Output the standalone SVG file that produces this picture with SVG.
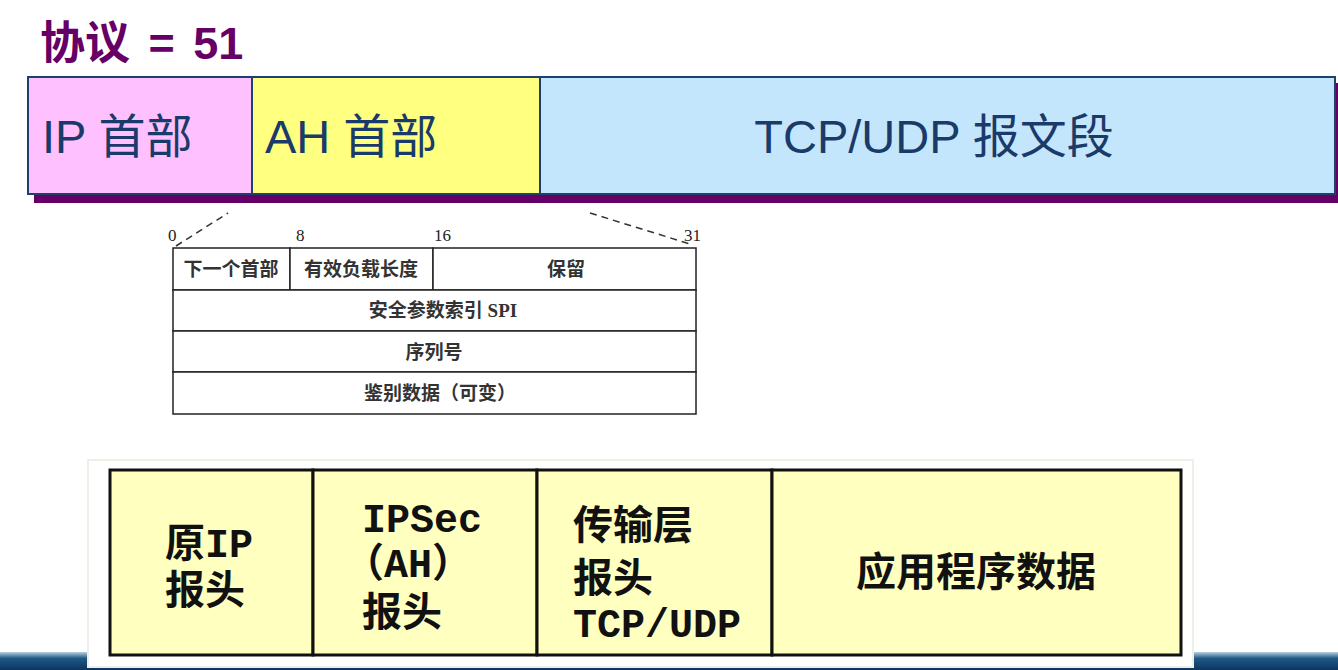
<svg xmlns="http://www.w3.org/2000/svg" width="1338" height="670" viewBox="0 0 1338 670">
<defs>
<linearGradient id="band" x1="0" y1="0" x2="0" y2="1">
<stop offset="0" stop-color="#b8d0e0"/>
<stop offset="0.35" stop-color="#1f5a86"/>
<stop offset="1" stop-color="#0b3560"/>
</linearGradient>
</defs>
<style>
.title{font-family:"Liberation Sans","Noto Sans CJK SC",sans-serif;font-size:45px;font-weight:bold;fill:#660066;word-spacing:6px}
.seg{stroke:#1f3f6f;stroke-width:2}
.segt{font-family:"Liberation Sans","Noto Sans CJK SC",sans-serif;font-size:47px;fill:#1a3a6a}
.cell{fill:#fff;stroke:#222;stroke-width:1.5}
.ct{font-family:"Liberation Serif","Noto Sans CJK SC",serif;font-size:19px;font-weight:bold;fill:#333;text-anchor:middle}
.bit{font-family:"Liberation Serif",serif;font-size:17px;fill:#222}
.dash{stroke:#333;stroke-width:1.5;stroke-dasharray:7 5;fill:none}
.box{fill:#ffffc0;stroke:#111;stroke-width:3}
.bt{font-family:"Liberation Mono","Noto Sans CJK SC",monospace;font-size:40px;font-weight:bold;fill:#111}
</style>
<rect width="1338" height="670" fill="#fff"/>
<rect x="0" y="652" width="1338" height="18" fill="url(#band)"/>
<g id="title"><text class="title" x="40" y="59">协议 = 51</text></g>
<g id="top-bar">
<rect x="34" y="83" width="1304" height="120" fill="#660066"/>
<g id="ip-header"><rect class="seg" x="28" y="77" width="224" height="117" fill="#ffc0ff"/><text class="segt" x="42" y="153">IP 首部</text></g>
<g id="ah-header"><rect class="seg" x="252" y="77" width="288" height="117" fill="#ffff80"/><text class="segt" x="265" y="153">AH 首部</text></g>
<g id="tcp-udp"><rect class="seg" x="540" y="77" width="795" height="117" fill="#c4e6fc"/><text class="segt" x="934" y="153" text-anchor="middle" font-size="48">TCP/UDP 报文段</text></g>
</g>
<g id="connectors">
<line class="dash" x1="176" y1="246" x2="228" y2="213"/>
<line class="dash" x1="590" y1="213" x2="690" y2="244"/>
</g>
<g id="ah-format">
<text class="bit" x="168" y="241">0</text>
<text class="bit" x="296" y="241">8</text>
<text class="bit" x="434" y="241">16</text>
<text class="bit" x="684" y="241">31</text>
<g id="f-next"><rect class="cell" x="173" y="248" width="117" height="42"/><text class="ct" x="231" y="276">下一个首部</text></g>
<g id="f-len"><rect class="cell" x="290" y="248" width="143" height="42"/><text class="ct" x="361" y="276">有效负载长度</text></g>
<g id="f-res"><rect class="cell" x="433" y="248" width="263" height="42"/><text class="ct" x="566" y="276">保留</text></g>
<g id="f-spi"><rect class="cell" x="173" y="290" width="523" height="41"/><text class="ct" x="443" y="317">安全参数索引 SPI</text></g>
<g id="f-seq"><rect class="cell" x="173" y="331" width="523" height="41"/><text class="ct" x="434" y="359">序列号</text></g>
<g id="f-auth"><rect class="cell" x="173" y="372" width="523" height="42"/><text class="ct" x="440" y="400">鉴别数据（可变）</text></g>
</g>
<g id="packet">
<rect x="88" y="460" width="1105" height="207" fill="#fff" stroke="#eef0e8" stroke-width="2"/>
<g id="p-ip"><rect class="box" x="110" y="470" width="203" height="185"/><text class="bt" x="165" y="557">原IP</text><text class="bt" x="165" y="604">报头</text></g>
<g id="p-ah"><rect class="box" x="313" y="470" width="224" height="185"/><text class="bt" x="362" y="532">IPSec</text><text class="bt" x="344" y="577">（AH）</text><text class="bt" x="362" y="626">报头</text></g>
<g id="p-tcp"><rect class="box" x="537" y="470" width="235" height="185"/><text class="bt" x="573" y="539">传输层</text><text class="bt" x="573" y="592">报头</text><text class="bt" x="573" y="637">TCP/UDP</text></g>
<g id="p-data"><rect class="box" x="772" y="470" width="409" height="185"/><text class="bt" x="976" y="586" text-anchor="middle" font-size="46">应用程序数据</text></g>
</g>
</svg>
